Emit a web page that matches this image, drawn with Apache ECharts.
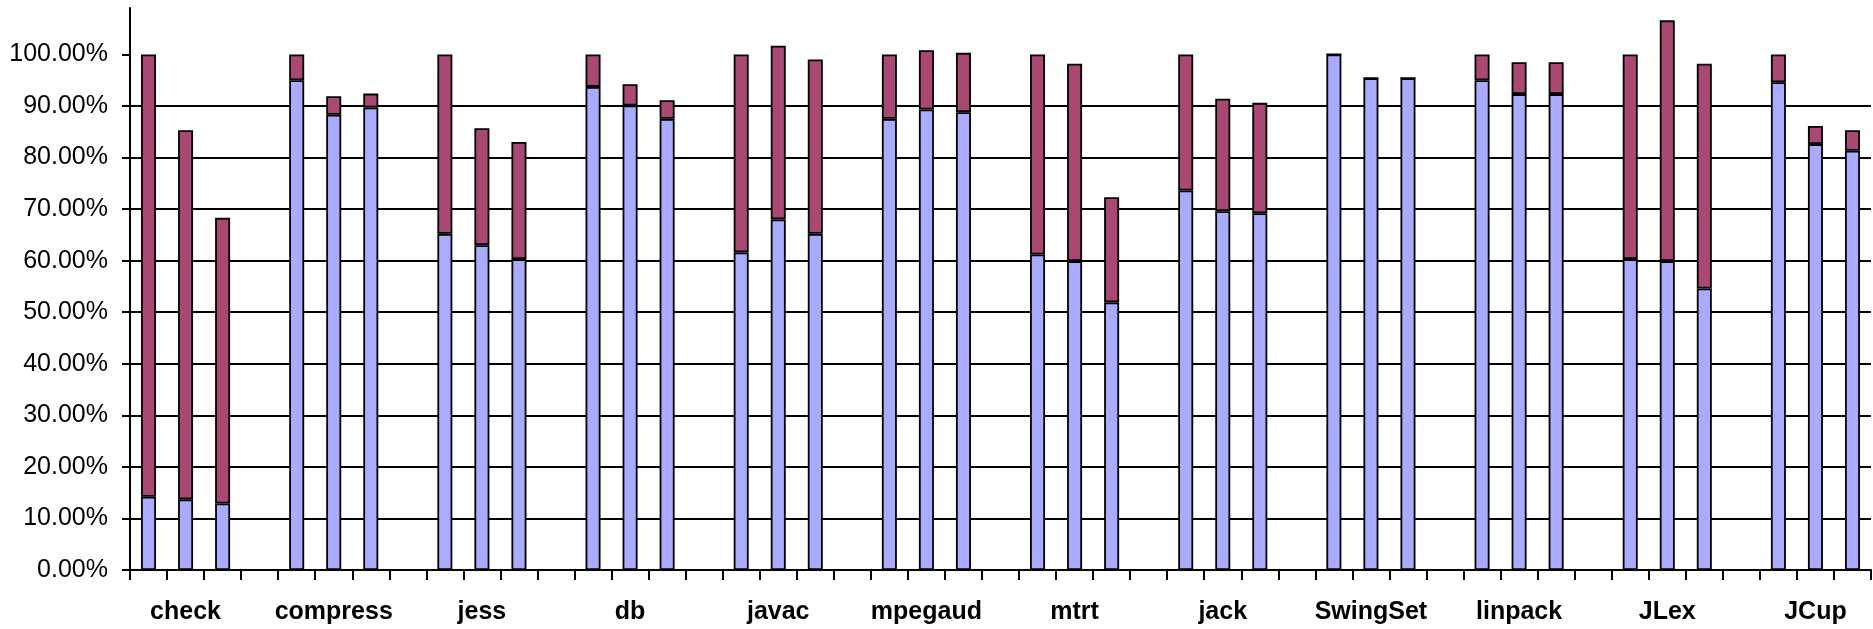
<!DOCTYPE html>
<html>
<head>
<meta charset="utf-8">
<script src="https://cdn.jsdelivr.net/npm/echarts@6/dist/echarts.min.js"></script>
<style>
html,body{margin:0;padding:0;background:#fff;}
#c{width:1873px;height:629px;}
</style>
</head>
<body>
<div id="c"></div>
<script>
// Benchmark groups (each has three runs)
const groups = ['check','compress','jess','db','javac','mpegaud','mtrt','jack','SwingSet','linpack','JLex','JCup'];
// Lower (blue) part of each bar, percent
const baseValues = [
  [14.2, 13.7, 12.9],
  [95.0, 88.3, 89.7],
  [65.2, 63.0, 60.3],
  [93.7, 90.1, 87.5],
  [61.6, 68.0, 65.2],
  [87.5, 89.3, 88.8],
  [61.2, 59.9, 51.9],
  [73.6, 69.6, 69.2],
  [100.0, 95.4, 95.4],
  [95.0, 92.3, 92.3],
  [60.3, 59.9, 54.6],
  [94.6, 82.6, 81.3]
];
// Total bar height, percent
const totalValues = [
  [100.0, 85.3, 68.3],
  [100.0, 91.9, 92.4],
  [100.0, 85.7, 83.0],
  [100.0, 94.2, 91.1],
  [100.0, 101.7, 99.0],
  [100.0, 100.8, 100.3],
  [100.0, 98.2, 72.3],
  [100.0, 91.4, 90.6],
  [100.0, 95.4, 95.4],
  [100.0, 98.5, 98.5],
  [100.0, 106.6, 98.2],
  [100.0, 86.1, 85.3]
];
const yTicks = [0,10,20,30,40,50,60,70,80,90,100];

// Build slots: 3 bars per group + a blank spacer slot between groups
const slots = [], slotLabels = [], baseData = [], topData = [];
groups.forEach((g, gi) => {
  for (let k = 0; k < 3; k++) {
    slots.push(g + '_' + k);
    slotLabels.push(k === 1 ? g : '');
    const b = baseValues[gi][k], t = totalValues[gi][k];
    baseData.push(b);
    topData.push(+(t - b).toFixed(2));
  }
  if (gi < groups.length - 1) {
    slots.push('gap_' + gi);
    slotLabels.push('');
    baseData.push('-');
    topData.push('-');
  }
});

const chart = echarts.init(document.getElementById('c'));
chart.setOption({
  animation: false,
  backgroundColor: '#fff',
  grid: {left: 130, right: 2, top: 8, bottom: 59, containLabel: false, outerBoundsMode: 'none'},
  xAxis: {
    type: 'category',
    data: slots,
    boundaryGap: true,
    axisLine: {show: true, lineStyle: {color: '#000', width: 2}},
    axisTick: {show: true, interval: 0, length: 10, inside: false, lineStyle: {color: '#000', width: 2}},
    axisLabel: {
      interval: 0,
      margin: 30,
      formatter: (v, i) => slotLabels[i],
      color: '#000',
      fontFamily: '"Liberation Sans Narrow", "Arial Narrow", "Liberation Sans", Arial, sans-serif',
      fontWeight: 'bold',
      fontSize: 25
    },
    splitLine: {show: false}
  },
  yAxis: {
    type: 'value',
    min: 0,
    max: 109,
    interval: 10,
    axisLine: {show: true, lineStyle: {color: '#000', width: 2}},
    axisTick: {show: true, length: 8, inside: false, customValues: yTicks, lineStyle: {color: '#000', width: 2}},
    axisLabel: {
      margin: 22,
      customValues: yTicks,
      formatter: v => v.toFixed(2) + '%',
      color: '#000',
      fontFamily: '"Liberation Sans Narrow", "Arial Narrow", "Liberation Sans", Arial, sans-serif',
      fontSize: 25
    },
    splitLine: {show: true, showMinLine: false, showMaxLine: false, lineStyle: {color: '#000', width: 2}}
  },
  series: [
    {
      type: 'bar',
      stack: 'total',
      data: baseData,
      barWidth: 15,
      itemStyle: {color: '#aaaaff', borderColor: '#000', borderWidth: 1.8}
    },
    {
      type: 'bar',
      stack: 'total',
      data: topData,
      barWidth: 15,
      itemStyle: {color: '#aa4874', borderColor: '#000', borderWidth: 1.8}
    }
  ]
});
</script>
</body>
</html>
